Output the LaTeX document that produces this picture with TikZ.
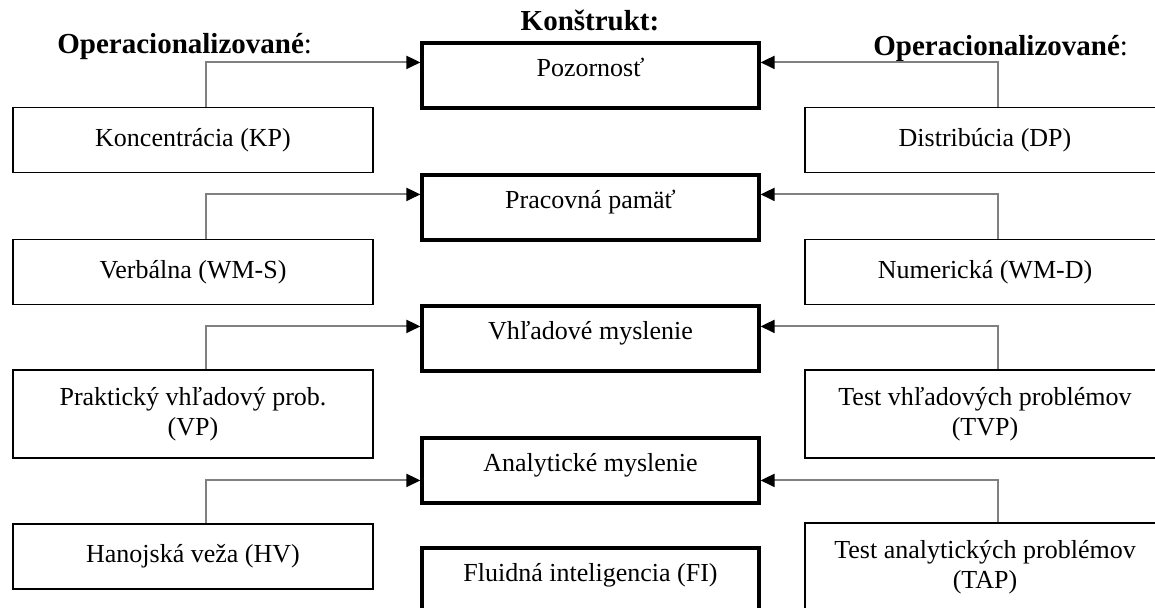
\documentclass[tikz,border=0pt]{standalone}
\usepackage{fontspec}
\setmainfont{Liberation Serif}
\usepackage{tikz}
\usetikzlibrary{arrows.meta}
\definecolor{linkgray}{HTML}{808080}
\tikzset{
  konstrukt/.style={rectangle,draw=black,line width=1.6pt,minimum width=168.5pt,minimum height=32.5pt,
    inner sep=0pt,text height=16.5pt,text depth=16pt,font=\fontsize{13}{15}\selectfont},
  operac/.style={rectangle,draw=black,line width=0.7pt,minimum width=180pt,minimum height=#1,
    inner sep=0pt,align=center,font=\fontsize{13}{15}\selectfont},
  operac/.default={32.5pt},
  myarrow/.style={-{Triangle[length=7pt,width=6.5pt,color=black]},line width=1pt,draw=linkgray},
  header/.style={font=\fontsize{14.5}{17}\selectfont\bfseries,inner sep=0pt},
}

\begin{document}
\begin{tikzpicture}[x=0.5pt,y=-0.5pt]
  \useasboundingbox (0,0) rectangle (1155,607);
  \clip (0,0) rectangle (1155,607);
  \node[header,anchor=base] (tkon) at (590,30) {Konštrukt:};
  \node[header,anchor=base west] (topl) at (57,53) {Operacionalizované\textmd{:}};
  \node[header,anchor=base west] (topr) at (873,55) {Operacionalizované\textmd{:}};
  \node[konstrukt] (poz) at (590.5,75.5) {Pozornosť};
  \node[konstrukt] (pam) at (590.5,207.5) {Pracovná pamäť};
  \node[konstrukt] (vhl) at (590.5,338.5) {Vhľadové myslenie};
  \node[konstrukt] (ana) at (590.5,470.5) {Analytické myslenie};
  \node[konstrukt] (fi) at (590.5,580.5) {Fluidná inteligencia (FI)};
  \node[operac] (kp) at (193,140) {Koncentrácia (KP)};
  \node[operac] (wms) at (193,272) {Verbálna (WM-S)};
  \node[operac=44pt] (vp) at (193,414) {Praktický vhľadový prob.\\(VP)};
  \node[operac] (hv) at (193,556.5) {Hanojská veža (HV)};
  \node[operac] (dp) at (985,140) {Distribúcia (DP)};
  \node[operac] (wmd) at (985,272) {Numerická (WM-D)};
  \node[operac=44pt] (tvp) at (985,414) {Test vhľadových problémov\\(TVP)};
  \node[operac=44pt] (tap) at (985,567) {Test analytických problémov\\(TAP)};
  \draw[myarrow] ([xshift=6.5pt]kp.north) |- ([yshift=-10.5pt]poz.north west);
  \draw[myarrow] ([xshift=6.5pt]dp.north) |- ([yshift=-10.5pt]poz.north east);
  \draw[myarrow] ([xshift=6.5pt]wms.north) |- ([yshift=-10.5pt]pam.north west);
  \draw[myarrow] ([xshift=6.5pt]wmd.north) |- ([yshift=-10.5pt]pam.north east);
  \draw[myarrow] ([xshift=6.5pt]vp.north) |- ([yshift=-11pt]vhl.north west);
  \draw[myarrow] ([xshift=6.5pt]tvp.north) |- ([yshift=-11pt]vhl.north east);
  \draw[myarrow] ([xshift=6.5pt]hv.north) |- ([yshift=-22pt]ana.north west);
  \draw[myarrow] ([xshift=6.5pt]tap.north) |- ([yshift=-22pt]ana.north east);
\end{tikzpicture}
\end{document}
